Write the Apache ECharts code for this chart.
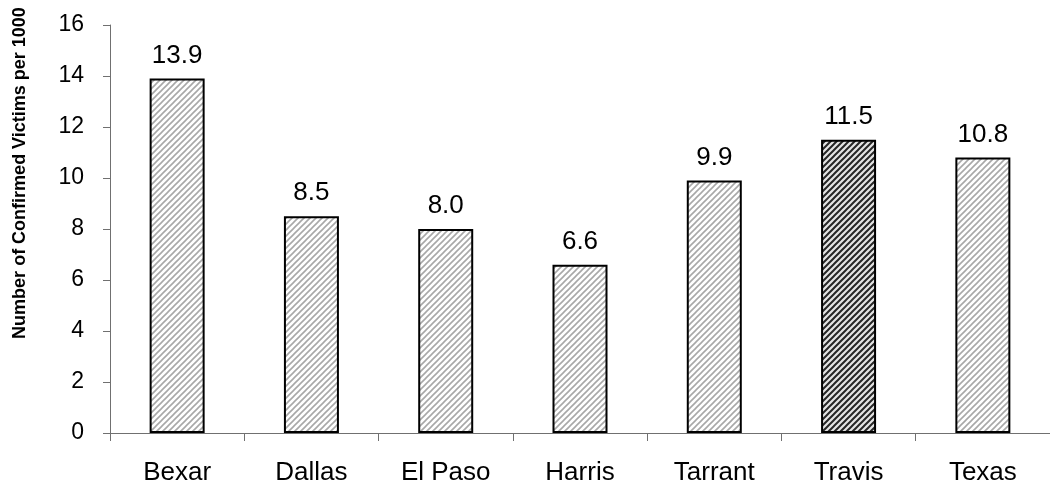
<!DOCTYPE html>
<html>
<head>
<meta charset="utf-8">
<script src="https://cdn.jsdelivr.net/npm/echarts@6/dist/echarts.min.js"></script>
<style>
  html, body { margin: 0; padding: 0; background: #fff; }
  #chart { width: 1050px; height: 487px; }
</style>
</head>
<body>
<div id="chart"></div>
<script>
// Confirmed victims per 1000 children, by county
const counties = ['Bexar', 'Dallas', 'El Paso', 'Harris', 'Tarrant', 'Travis', 'Texas'];
const ratePer1000 = [13.9, 8.5, 8.0, 6.6, 9.9, 11.5, 10.8];
const highlighted = 'Travis';
const yTicks = { min: 0, max: 16, interval: 2 };

// Diagonal hatch tile used as a repeating bar fill
function hatch(bg, stroke, width, size) {
  const c = document.createElement('canvas');
  c.width = size; c.height = size;
  const g = c.getContext('2d');
  g.fillStyle = bg;
  g.fillRect(0, 0, size, size);
  g.strokeStyle = stroke;
  g.lineWidth = width;
  g.beginPath();
  for (let k = -1; k <= 1; k++) {
    g.moveTo(k * size - 1, size + 1);
    g.lineTo(k * size + size + 1, -1);
  }
  g.stroke();
  return { image: c, repeat: 'repeat' };
}

const lightFill = hatch('#ffffff', '#a8a8a8', 1.6, 6);
const darkFill = hatch('#e4e4e4', '#262626', 2.0, 6);

const chart = echarts.init(document.getElementById('chart'), null, { renderer: 'canvas' });

const font = 'Liberation Sans, Arial, sans-serif';

chart.setOption({
  animation: false,
  grid: { left: 110, right: -8, top: 25, bottom: 54, containLabel: false },
  xAxis: {
    type: 'category',
    data: counties,
    axisLine: { lineStyle: { color: '#707070', width: 1 } },
    axisTick: { show: true, length: 8, lineStyle: { color: '#707070' } },
    axisLabel: { color: '#000', fontSize: 26, fontFamily: font, margin: 27 }
  },
  yAxis: {
    type: 'value',
    min: yTicks.min, max: yTicks.max, interval: yTicks.interval,
    axisLine: { show: true, lineStyle: { color: '#707070', width: 1 } },
    axisTick: { show: true, length: 7, lineStyle: { color: '#707070' } },
    axisLabel: { color: '#000', fontSize: 23, fontFamily: font, margin: 26 },
    splitLine: { show: false }
  },
  graphic: [{
    type: 'text',
    x: 20, y: 173,
    rotation: Math.PI / 2,
    style: {
      text: 'Number of Confirmed Victims per 1000',
      fontSize: 18, fontWeight: 'bold', fontFamily: font,
      fill: '#000', textAlign: 'center', textVerticalAlign: 'middle'
    }
  }],
  series: [{
    type: 'bar',
    barWidth: 55,
    data: ratePer1000.map((v, i) => ({
      value: v,
      itemStyle: { color: counties[i] === highlighted ? darkFill : lightFill }
    })),
    itemStyle: { borderColor: '#000', borderWidth: 2 },
    label: {
      show: true, position: 'top', distance: 10,
      formatter: p => p.value.toFixed(1),
      color: '#000', fontSize: 26, fontFamily: font
    }
  }]
});
</script>
</body>
</html>
